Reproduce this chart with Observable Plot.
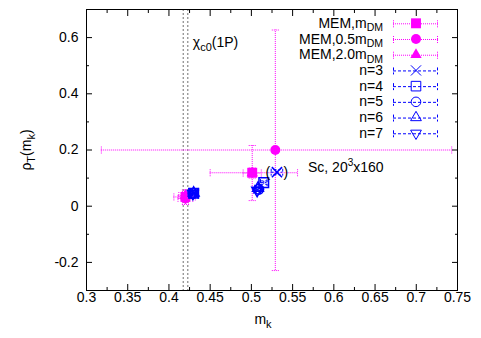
<!DOCTYPE html>
<html><head><meta charset="utf-8">
<script src="https://cdn.jsdelivr.net/npm/d3@7"></script>
<script src="https://cdn.jsdelivr.net/npm/@observablehq/plot@0.6"></script>
<style>body{margin:0;background:#fff} svg{display:block}</style>
</head><body><div id="chart"></div>
<script>
// ---- tick values / labels ----
const xTicks = [0.3,0.35,0.4,0.45,0.5,0.55,0.6,0.65,0.7,0.75];
const xTickLabels = ["0.3","0.35","0.4","0.45","0.5","0.55","0.6","0.65","0.7","0.75"];
const xMinor = [0.325,0.375,0.425,0.475,0.525,0.575,0.625,0.675,0.725];
const yTicks = [-0.2,0,0.2,0.4,0.6];
const yTickLabels = ["-0.2","0","0.2","0.4","0.6"];
const yMinor = [-0.1,0.1,0.3,0.5];
// chi_c0(1P) band
const chiC0 = [0.4173, 0.4229];

// ---- series (x = m_k, y = rho_T, with error ranges) ----
const memDM = [
  {x:0.420, y:0.033, xlo:0.406, xhi:0.432, ylo:0.006, yhi:0.058},
  {x:0.501, y:0.119, xlo:0.450, xhi:0.556, ylo:0.020, yhi:0.216}
];
const mem05DM = [
  {x:0.420, y:0.028, xlo:0.411, xhi:0.429, ylo:0.012, yhi:0.046},
  {x:0.529, y:0.200, xlo:0.318, xhi:0.743, ylo:-0.229, yhi:0.627}
];
const mem20DM = [
  {x:0.420, y:0.038, xlo:0.412, xhi:0.428, ylo:0.024, yhi:0.052},
  {x:0.501, y:0.118, xlo:0.490, xhi:0.512, ylo:0.100, yhi:0.136}
];
const n3 = [
  {x:0.430, y:0.046, xlo:0.426, xhi:0.434, ylo:0.040, yhi:0.052},
  {x:0.531, y:0.121, xlo:0.524, xhi:0.538, ylo:0.112, yhi:0.130}
];
const n4 = [
  {x:0.430, y:0.046, xlo:0.426, xhi:0.434, ylo:0.040, yhi:0.052},
  {x:0.515, y:0.084, xlo:0.511, xhi:0.519, ylo:0.078, yhi:0.090}
];
const n5 = [
  {x:0.429, y:0.045, xlo:0.425, xhi:0.433, ylo:0.039, yhi:0.051},
  {x:0.509, y:0.060, xlo:0.505, xhi:0.513, ylo:0.053, yhi:0.067}
];
const n6 = [
  {x:0.430, y:0.047, xlo:0.426, xhi:0.434, ylo:0.041, yhi:0.053},
  {x:0.508, y:0.064, xlo:0.504, xhi:0.512, ylo:0.057, yhi:0.071}
];
const n7 = [
  {x:0.429, y:0.045, xlo:0.425, xhi:0.433, ylo:0.039, yhi:0.051},
  {x:0.507, y:0.056, xlo:0.503, xhi:0.511, ylo:0.049, yhi:0.063}
];
const legendLabels = [["MEM,m","DM"],["MEM,0.5m","DM"],["MEM,2.0m","DM"],["n=3"],["n=4"],["n=5"],["n=6"],["n=7"]];

// ---- styles ----
const MAG = "#ff00ff", BLUE = "#0000ff";
const MAGDASH = "1,1", BLUEDASH = "3,2";
const invTriangle = {draw(ctx, size){
  const s3 = Math.sqrt(3); const y = -Math.sqrt(size/(s3*3));
  ctx.moveTo(0,-y*2); ctx.lineTo(-s3*y, y); ctx.lineTo(s3*y, y); ctx.closePath();
}};
const vCap = {draw(ctx,size){const r=Math.sqrt(size/Math.PI); ctx.moveTo(0,-r); ctx.lineTo(0,r);}};
const hCap = {draw(ctx,size){const r=Math.sqrt(size/Math.PI); ctx.moveTo(-r,0); ctx.lineTo(r,0);}};

function errMarks(data, color, dash){
  const s = {stroke:color, strokeDasharray:dash, strokeWidth:1};
  return [
    Plot.ruleY(data,{y:"y", x1:"xlo", x2:"xhi", ...s}),
    Plot.ruleX(data,{x:"x", y1:"ylo", y2:"yhi", ...s}),
    Plot.dot(data,{x:"xlo", y:"y", symbol:vCap, r:3.5, fill:"none", ...s}),
    Plot.dot(data,{x:"xhi", y:"y", symbol:vCap, r:3.5, fill:"none", ...s}),
    Plot.dot(data,{x:"x", y:"ylo", symbol:hCap, r:3.5, fill:"none", ...s}),
    Plot.dot(data,{x:"x", y:"yhi", symbol:hCap, r:3.5, fill:"none", ...s})
  ];
}
const SYM = {
  memDM:{symbol:"square", r:5.6, fill:MAG, stroke:"none"},
  mem05DM:{symbol:"circle", r:5, fill:MAG, stroke:"none"},
  mem20DM:{symbol:"triangle", r:4.2, fill:MAG, stroke:"none"},
  n3:{symbol:"times", r:4.7, fill:"none", stroke:BLUE},
  n4:{symbol:"square", r:5.4, fill:"none", stroke:BLUE},
  n5:{symbol:"circle", r:4.8, fill:"none", stroke:BLUE},
  n6:{symbol:"triangle", r:4.0, fill:"none", stroke:BLUE},
  n7:{symbol:invTriangle, r:4.0, fill:"none", stroke:BLUE}
};
const xLab = d => xTickLabels[xTicks.indexOf(d)];
const yLab = d => yTickLabels[yTicks.indexOf(d)];

const FONT = "'Liberation Sans', Arial, Helvetica, sans-serif";
const tickOnly = (size) => ({tickSize:size, fill:"none", label:null});
const plot = Plot.plot({
  width:481, height:338,
  marginLeft:86, marginRight:24, marginTop:9, marginBottom:48,
  x:{domain:[0.3,0.75]}, y:{domain:[-0.3,0.7]},
  style:{fontFamily:FONT, fontSize:"14px", background:"white", color:"black", overflow:"visible"},
  marks:[
    Plot.ruleX(chiC0,{stroke:"#707070", strokeDasharray:"2,2"}),
    ...errMarks(memDM, MAG, MAGDASH),
    ...errMarks(mem05DM, MAG, MAGDASH),
    ...errMarks(mem20DM, MAG, MAGDASH),
    Plot.dot(memDM,{x:"x", y:"y", ...SYM.memDM}),
    Plot.dot(mem05DM,{x:"x", y:"y", ...SYM.mem05DM}),
    Plot.dot(mem20DM,{x:"x", y:"y", ...SYM.mem20DM}),
    ...errMarks(n3, BLUE, BLUEDASH),
    ...errMarks(n4, BLUE, BLUEDASH),
    ...errMarks(n5, BLUE, BLUEDASH),
    ...errMarks(n6, BLUE, BLUEDASH),
    ...errMarks(n7, BLUE, BLUEDASH),
    Plot.dot(n3,{x:"x", y:"y", ...SYM.n3}),
    Plot.dot(n4,{x:"x", y:"y", ...SYM.n4}),
    Plot.dot(n5,{x:"x", y:"y", ...SYM.n5}),
    Plot.dot(n6,{x:"x", y:"y", ...SYM.n6}),
    Plot.dot(n7,{x:"x", y:"y", ...SYM.n7}),
    Plot.text([n3[1]],{x:"x", y:"y", text:()=>"(", dx:-9, fontSize:14, fill:"black"}),
    Plot.text([n3[1]],{x:"x", y:"y", text:()=>")", dx:9, fontSize:14, fill:"black"}),
    Plot.frame({stroke:"black"}),
    Plot.axisX(xTicks,{anchor:"bottom", ...tickOnly(-6)}),
    Plot.axisX(xTicks,{anchor:"top", ...tickOnly(-6)}),
    Plot.axisX(xMinor,{anchor:"bottom", ...tickOnly(-3)}),
    Plot.axisX(xMinor,{anchor:"top", ...tickOnly(-3)}),
    Plot.axisY(yTicks,{anchor:"left", ...tickOnly(-6)}),
    Plot.axisY(yTicks,{anchor:"right", ...tickOnly(-6)}),
    Plot.axisY(yMinor,{anchor:"left", ...tickOnly(-3)}),
    Plot.axisY(yMinor,{anchor:"right", ...tickOnly(-3)}),
    Plot.axisX(xTicks,{anchor:"bottom", tickSize:0, tickPadding:2, tickFormat:xLab, fontSize:14, label:null}),
    Plot.axisY(yTicks,{anchor:"left", tickSize:0, tickPadding:8, tickFormat:yLab, fontSize:14, label:null})
  ]
});
document.getElementById("chart").appendChild(plot);

// ---- annotations and legend ----
const svg = d3.select(plot);
const sx = plot.scale("x"), sy = plot.scale("y");
function subText(g, parts, subShift = 4, subSize = 11){
  let shift = 0;
  parts.forEach(([t,type])=>{
    const target = type==="sub" ? subShift : type==="sup" ? -6 : 0;
    const ts = g.append("tspan").text(t).attr("dy", target-shift);
    if (type) ts.attr("font-size", type==="sup" ? 10 : subSize);
    shift = target;
  });
}
const ann = svg.append("g").attr("font-family",FONT).attr("font-size",14).attr("fill","black").attr("text-anchor","start");
subText(ann.append("text").attr("text-anchor","middle").attr("transform","translate(31,150) rotate(-90)"),
  [["ρ"],["T","sub"],["(m"],["k","sub"],[")"]]);
subText(ann.append("text").attr("text-anchor","middle").attr("x",263).attr("y",323.5),
  [["m"],["k","sub"]]);
subText(ann.append("text").attr("text-anchor","start").attr("x", sx.apply(chiC0[1]) + 5.5).attr("y",46.5),
  [["χ"],["c0","sub"],["(1P)"]]);
subText(ann.append("text").attr("text-anchor","start").attr("x",308).attr("y",172),
  [["Sc, 20"],["3","sup"],["x160"]]);

// legend
const legendSyms = [SYM.memDM, SYM.mem05DM, SYM.mem20DM, SYM.n3, SYM.n4, SYM.n5, SYM.n6, SYM.n7];
const symType = s => typeof s === "object" ? s : ({square:d3.symbolSquare, circle:d3.symbolCircle, triangle:d3.symbolTriangle, times:d3.symbolTimes})[s];
const lg = svg.append("g");
legendLabels.forEach((lab,i)=>{
  const cy = 23.3 + i*15.71;
  const s = legendSyms[i];
  const color = i < 3 ? MAG : BLUE, dash = i < 3 ? MAGDASH : BLUEDASH;
  const t = ann.append("text").attr("text-anchor","end").attr("x",383).attr("y",cy+4.6);
  subText(t, lab.length>1 ? [[lab[0]],[lab[1],"sub"]] : [[lab[0]]], 3.2, 10.5);
  const gl = lg.append("g").attr("stroke",color).attr("stroke-dasharray",dash).attr("fill","none");
  gl.append("line").attr("x1",393).attr("x2",438).attr("y1",cy+0.5).attr("y2",cy+0.5);
  gl.append("line").attr("x1",393.5).attr("x2",393.5).attr("y1",cy-3).attr("y2",cy+4);
  gl.append("line").attr("x1",437.5).attr("x2",437.5).attr("y1",cy-3).attr("y2",cy+4);
  lg.append("path").attr("transform",`translate(416,${cy})`)
    .attr("d", d3.symbol(symType(s.symbol), Math.PI*s.r*s.r)())
    .attr("fill", s.fill).attr("stroke", s.stroke === "none" ? null : s.stroke);
});
</script></body></html>
